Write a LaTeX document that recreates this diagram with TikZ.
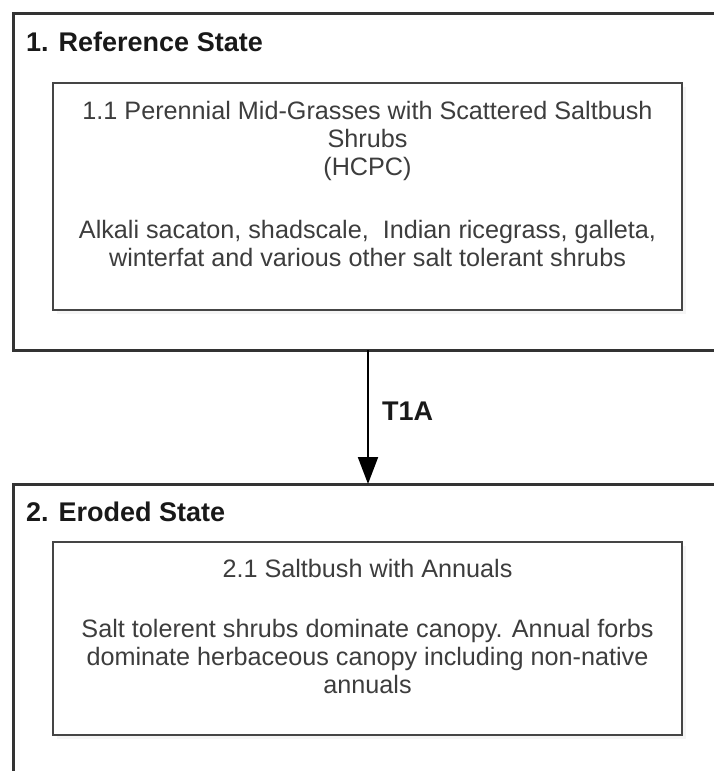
\documentclass[tikz,border=0pt]{standalone}
\usepackage{fontspec}
\setmainfont{Liberation Sans}
\usetikzlibrary{arrows.meta,positioning,shadows}
\definecolor{StateClr}{rgb}{0.2,0.2,0.2}
\definecolor{CommClr}{rgb}{0.27,0.27,0.27}
\definecolor{TextClr}{rgb}{0.24,0.24,0.24}

\begin{document}
\begin{tikzpicture}[x=1pt,y=-1pt,
  statebox/.style={draw=StateClr,line width=3pt,minimum width=710pt,inner sep=0pt,outer sep=0pt,anchor=north west},
  statehead/.style={font=\bfseries\fontsize{27}{30}\selectfont,text=black!90,anchor=west,inner sep=0pt},
  commbox/.style={draw=CommClr,line width=2.2pt,fill=white,minimum width=629pt,inner sep=0pt,outer sep=0pt,anchor=north west,
    drop shadow={shadow xshift=4pt,shadow yshift=-4pt,opacity=0.08}},
  commtext/.style={font=\fontsize{25.2}{28}\selectfont,text=TextClr,align=center,inner sep=0pt},
  trans/.style={-{Triangle[length=27pt,width=20pt]},line width=2pt,black},
  translabel/.style={font=\bfseries\fontsize{27}{30}\selectfont,text=black!90,inner sep=0pt}]

\useasboundingbox (0,0) rectangle (714,771);
\clip (0,0) rectangle (714,771);

\node[statebox,minimum height=337pt] (state1) at (13,13) {};
\node[statebox,minimum height=320pt] (state2) at (13,484) {};

\node[statehead] (head1) at (26,42) {1. Reference State};
\node[statehead] (head2) at (26,512) {2. Eroded State};

\node[commbox,minimum height=227pt] (comm11) at (53,83) {};
\node[commtext,below=18pt of comm11.north] (txt11)
  {1.1 Perennial Mid-Grasses with Scattered Saltbush\\Shrubs\\(HCPC)\\[35pt]
   Alkali sacaton, shadscale,\ \ Indian ricegrass, galleta,\\winterfat and various other salt tolerant shrubs};

\node[commbox,minimum height=193pt] (comm21) at (53,542) {};
\node[commtext,below=17pt of comm21.north] (txt21)
  {2.1 Saltbush with Annuals\\[32pt]
   Salt tolerent shrubs dominate canopy. Annual forbs\\dominate herbaceous canopy including non-native\\annuals};

\draw[trans] (state1.south) -- node[translabel,right=13pt,pos=0.46] (t1a) {T1A} (state2.north);

\end{tikzpicture}
\end{document}
